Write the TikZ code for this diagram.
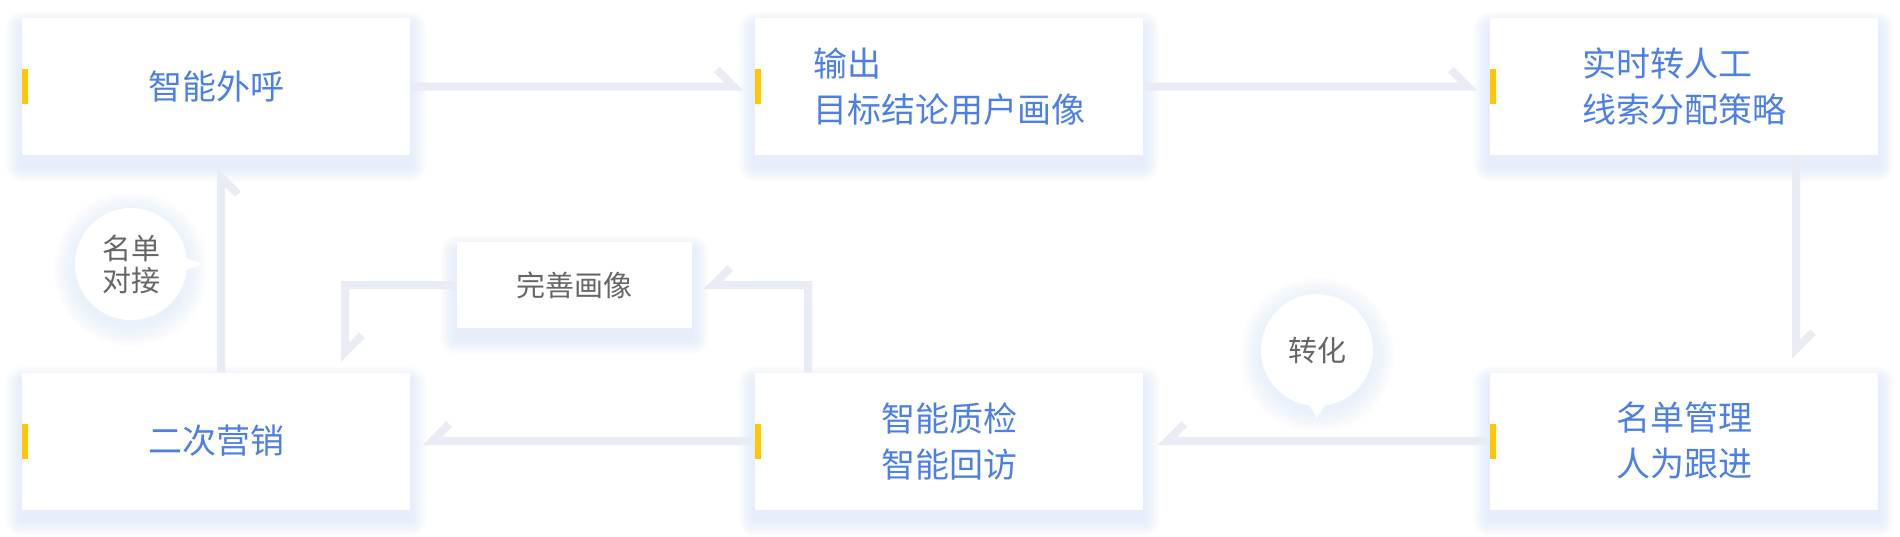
\documentclass[tikz,border=0pt]{standalone}
\usepackage{fontspec}
\newfontfamily\cjk{Noto Sans CJK SC}
\usetikzlibrary{backgrounds}

\definecolor{linkgray}{HTML}{E9ECF4}
\definecolor{textblue}{HTML}{4D80E6}
\definecolor{textgray}{HTML}{666666}
\definecolor{markyellow}{HTML}{FFC800}
\definecolor{glowblue}{HTML}{D0DCFB}

\begin{document}
\begin{tikzpicture}[x=1pt, y=-1pt,
    card/.style={fill=white, minimum width=388pt, minimum height=137pt, inner sep=0pt,
        align=left, text=textblue, font=\cjk\fontsize{34}{46}\selectfont},
    tag/.style={fill=white, minimum width=235pt, minimum height=86pt, inner sep=0pt,
        text=textgray, font=\cjk\fontsize{29}{32}\selectfont},
    bubble/.style={circle, fill=white, minimum size=112pt, inner sep=0pt,
        align=center, text=textgray, font=\cjk\fontsize{29}{32}\selectfont},
    conn/.style={draw=linkgray, line width=8pt, line join=miter}]
    \useasboundingbox (0,0) rectangle (1900,536);

    % Glow under the two round labels
    \foreach \cx/\cy in {131/264, 1317/350}
        \foreach \k in {1,...,12}
            \fill[glowblue, opacity=0.03] (\cx,\cy+5) circle[radius=56pt+1.8pt*\k];

    % Process cards
    \node[card] (hujiao)   at (216,86.5)  {智能外呼};
    \node[card] (shuchu)   at (949,86.5)  {输出\\目标结论用户画像};
    \node[card] (zhuanren) at (1684,86.5) {实时转人工\\线索分配策略};
    \node[card] (erci)     at (216,441)   {二次营销};
    \node[card] (zhijian)  at (949,441)   {智能质检\\智能回访};
    \node[card] (mingdan)  at (1684,441)  {名单管理\\人为跟进};

    % Yellow markers on the left edge
    \foreach \n in {hujiao,shuchu,zhuanren,erci,zhijian,mingdan}
        \fill[markyellow] ([yshift=-17.5pt]\n.west) rectangle ([xshift=6pt,yshift=17.5pt]\n.west);

    % Side labels
    \node[tag] (wanshan) at (574.5,285) {完善画像};
    \node[bubble] (duijie) at (131,264) {名单\\对接};
    \node[bubble] (zhuanhua) at (1317,350) {转化};
    \fill[white] ([xshift=-3pt,yshift=7pt]duijie.east) -- ([xshift=15pt]duijie.east)
        -- ([xshift=-3pt,yshift=-7pt]duijie.east) -- cycle;
    \fill[white] ([xshift=-9pt,yshift=3pt]zhuanhua.south) -- ([yshift=-12pt]zhuanhua.south)
        -- ([xshift=9pt,yshift=3pt]zhuanhua.south) -- cycle;

    % Connectors with one-sided barbs
    \draw[conn] (hujiao.east) -- ([xshift=-21pt]shuchu.west) -- ++(-17,-17);
    \draw[conn] (shuchu.east) -- ([xshift=-22pt]zhuanren.west) -- ++(-17,-17);
    \draw[conn] ([xshift=112pt]zhuanren.south) -- ([xshift=112pt,yshift=23pt]mingdan.north) -- ++(17,-17);
    \draw[conn] (mingdan.west) -- ([xshift=24pt]zhijian.east) -- ++(17,-17);
    \draw[conn] (zhijian.west) -- ([xshift=22pt]erci.east) -- ++(17,-17);
    \draw[conn] ([xshift=5pt]erci.north) -- ([xshift=5pt,yshift=-22pt]hujiao.south) -- ++(17,17);
    \draw[conn] (wanshan.west) -| ([xshift=129pt,yshift=20pt]erci.north) -- ++(17,-17);
    \draw[conn] ([xshift=-141pt]zhijian.north) |- ([xshift=21pt]wanshan.east) -- ++(17,-17);

    % White page and soft blue glow behind the cards
    \begin{scope}[on background layer]
        \fill[white] (0,0) rectangle (1900,536);
        \foreach \n in {hujiao,shuchu,zhuanren,erci,zhijian,mingdan,wanshan}
            \foreach \k [evaluate=\k as \r using 1.8*\k] in {1,...,16}
                \fill[glowblue, fill opacity=0.03, rounded corners=\r pt]
                    ([shift={(-\r,-\r+10)}]\n.north west) rectangle ([shift={(\r,\r+10)}]\n.south east);
    \end{scope}
\end{tikzpicture}
\end{document}
